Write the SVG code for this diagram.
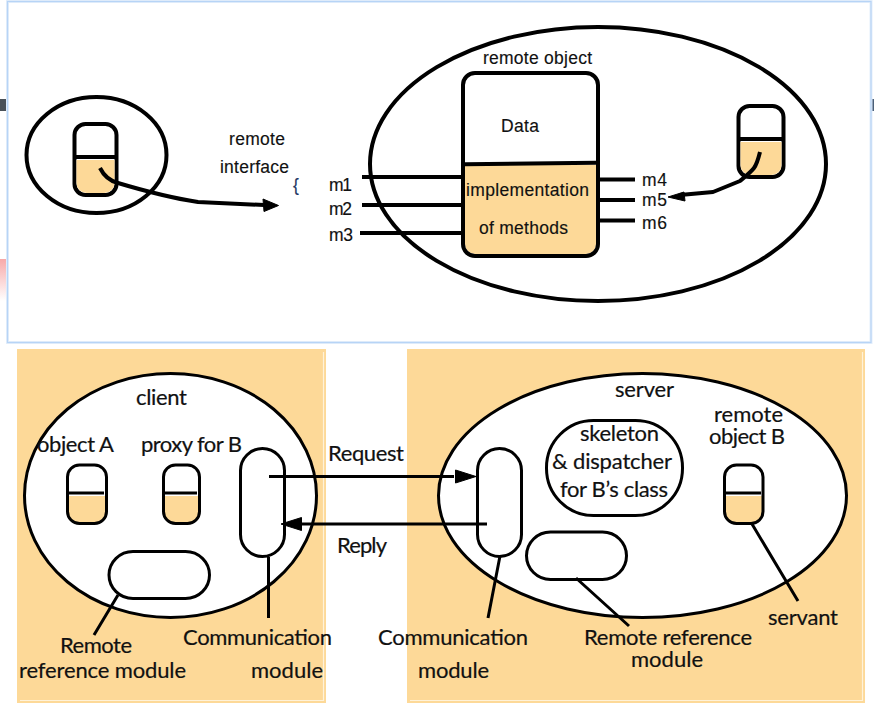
<svg xmlns="http://www.w3.org/2000/svg" width="874" height="713" viewBox="0 0 874 713">
<defs><linearGradient id="pink" x1="0" y1="0" x2="0" y2="1"><stop offset="0" stop-color="#f7a9a9"/><stop offset="1" stop-color="#fff"/></linearGradient><style>
.o{fill:none;stroke:#000;stroke-width:4;stroke-linejoin:round}
.b{fill:none;stroke:#000;stroke-width:3;stroke-linejoin:round}
.w{fill:#fff;stroke:#000;stroke-width:3}
.n{fill:none;stroke:#000;stroke-width:3}
.f{fill:#fdd998}
.p{fill:#fdd998}
.h{fill:#000;stroke:#000;stroke-width:1;stroke-linejoin:round}
.a{font-family:"Liberation Sans",Arial,sans-serif;font-size:17.500px;fill:#111;stroke:#111;stroke-width:.15}
.c{font-family:Lato,"Open Sans",sans-serif;font-size:22px;fill:#111;stroke:#111;stroke-width:.2}
.e{fill:none;stroke:#fff2d8;stroke-width:1.2}
</style></defs>
<rect width="874" height="713" fill="#fff"/>
<g id="backdrop">
<rect x="0" y="99" width="8" height="12" fill="#4a5158"/>
<rect x="871" y="99" width="3" height="12" fill="#4a5f78"/>
<rect x="0" y="259" width="8" height="42" fill="url(#pink)"/>
<rect x="7.500" y="1.500" width="863.500" height="341" fill="#fff" stroke="#e3eefb" stroke-width="3"/>
<rect x="7.500" y="1.500" width="863.500" height="341" fill="none" stroke="#b7d4f6" stroke-width="1.200"/>
<rect x="17" y="349" width="309" height="354" class="p"/>
<rect x="407" y="349" width="458" height="354" class="p"/>
<path class="e" d="M20 700.500H323.500V352"/>
<path class="e" d="M410 700.500H862.500V352"/>
</g>
<g id="client-object-top">
<ellipse cx="96.500" cy="155" rx="70" ry="58" class="o"/>
<rect x="74.500" y="124" width="42" height="71" rx="11" class="o"/>
<path class="f" d="M76.500 160H114.500V183a10 10 0 0 1-10 10H86.500a10 10 0 0 1-10-10Z"/>
<path d="M76 157H115" class="o"/>
</g>
<g id="remote-object-top">
<ellipse cx="598" cy="164" rx="228" ry="137" class="o"/>
<path class="f" d="M465 165H596V244a10 10 0 0 1-10 10H475a10 10 0 0 1-10-10Z"/>
<rect x="463" y="73" width="135" height="183" rx="12" class="o"/>
<path d="M465 164.300L596 162.800" class="o"/>
</g>
<g id="server-object-top">
<rect x="738.500" y="106" width="45" height="71" rx="11" class="o"/>
<path class="f" d="M740.500 142H781.500V165a10 10 0 0 1-10 10H750.500a10 10 0 0 1-10-10Z"/>
<path d="M740 139H782" class="o"/>
</g>
<g id="client-panel"><ellipse cx="170.500" cy="495.500" rx="146" ry="122" class="w"/></g>
<g id="server-panel"><ellipse cx="642.500" cy="495.500" rx="204" ry="122" class="w"/></g>
<g id="object-a">
<path class="f" d="M68 496H106V512a11 11 0 0 1-11 11H79a11 11 0 0 1-11-11Z"/>
<rect x="67.500" y="465" width="39" height="58.500" rx="12" class="b"/>
<path d="M68 493H104" class="b"/>
</g>
<g id="proxy-b">
<path class="f" d="M164 496H199V512a11 11 0 0 1-11 11H175a11 11 0 0 1-11-11Z"/>
<rect x="163.500" y="465" width="36" height="58.500" rx="12" class="b"/>
<path d="M164 493H197" class="b"/>
</g>
<g id="client-communication-module"><rect x="240.500" y="448.500" width="44" height="108" rx="22" class="n"/></g>
<g id="client-reference-module"><rect x="109" y="551.500" width="100.500" height="47" rx="24" class="n"/></g>
<g id="server-communication-module"><rect x="477.500" y="448.500" width="44" height="108" rx="22" class="n"/></g>
<g id="skeleton"><rect x="546.500" y="420.500" width="136" height="95" rx="47" class="n"/></g>
<g id="server-reference-module"><rect x="526.500" y="532" width="100" height="47.500" rx="24" class="n"/></g>
<g id="object-b">
<path class="f" d="M725 496H763V512a11 11 0 0 1-11 11H736a11 11 0 0 1-11-11Z"/>
<rect x="724.500" y="465" width="38.500" height="58.500" rx="12" class="b"/>
<path d="M725 493H761" class="b"/>
</g>
<g id="connectors">
<path class="o" d="M100 168C104 176 110 181 118 183C148 192 172 198 198 202L264 205"/>
<path class="h" d="M263 199L278.500 205.500L264 211.500Z"/>
<path class="o" d="M362 177H463M362 205H463M360 233H463"/>
<path class="o" d="M598 179.500H635M598 200H635M598 220.500H635"/>
<path class="o" d="M760 152C758 160 757 164 754 168C751 172 746 176 740 181L713 192L680 195"/>
<path class="h" d="M668 197L684 192L685 201Z"/>
<path class="b" d="M269 476.500H454"/>
<path class="h" d="M455.500 470L476 476.500L455.500 483Z"/>
<path class="b" d="M487 524H300"/>
<path class="h" d="M301.500 517.500L281 524L301.500 530.500Z"/>
<path class="b" d="M118 595L94 635M268.500 557V618M500 556L488 618M576 578L629 626M752 524L798 601"/>
</g>
<g id="labels">
<text class="a" x="483" y="64" textLength="109">remote object</text>
<text class="a" x="229" y="145" textLength="56">remote</text>
<text class="a" x="220" y="173" textLength="69">interface</text>
<text class="a" x="293" y="191" style="fill:#1f3864;stroke:#1f3864">{</text>
<text class="a" x="329" y="191" textLength="23">m1</text>
<text class="a" x="329" y="215" textLength="23">m2</text>
<text class="a" x="329" y="241" textLength="24">m3</text>
<text class="a" x="501" y="132" textLength="38">Data</text>
<text class="a" x="466" y="196" textLength="123">implementation</text>
<text class="a" x="479" y="234" textLength="89">of methods</text>
<text class="a" x="642" y="186" textLength="25">m4</text>
<text class="a" x="642" y="206" textLength="25">m5</text>
<text class="a" x="642" y="229" textLength="25">m6</text>
<text class="c" x="136" y="405" textLength="51">client</text>
<text class="c" x="37" y="452" textLength="77">object A</text>
<text class="c" x="141" y="452" textLength="101">proxy for B</text>
<text class="c" x="328" y="461" textLength="76">Request</text>
<text class="c" x="337" y="553" textLength="50">Reply</text>
<text class="c" x="60" y="653" textLength="72">Remote</text>
<text class="c" x="19" y="678" textLength="167">reference module</text>
<text class="c" x="183" y="645" textLength="149">Communication</text>
<text class="c" x="251" y="678" textLength="72">module</text>
<text class="c" x="378" y="645" textLength="150">Communication</text>
<text class="c" x="418" y="678" textLength="71">module</text>
<text class="c" x="615" y="397" textLength="59">server</text>
<text class="c" x="714" y="422" textLength="69">remote</text>
<text class="c" x="709" y="444" textLength="76">object B</text>
<text class="c" x="580" y="441" textLength="79">skeleton</text>
<text class="c" x="552" y="469" textLength="120">&amp; dispatcher</text>
<text class="c" x="560" y="497" textLength="108">for B’s class</text>
<text class="c" x="768" y="625" textLength="70">servant</text>
<text class="c" x="584" y="645" textLength="168">Remote reference</text>
<text class="c" x="631" y="667" textLength="72">module</text>
</g>
</svg>
